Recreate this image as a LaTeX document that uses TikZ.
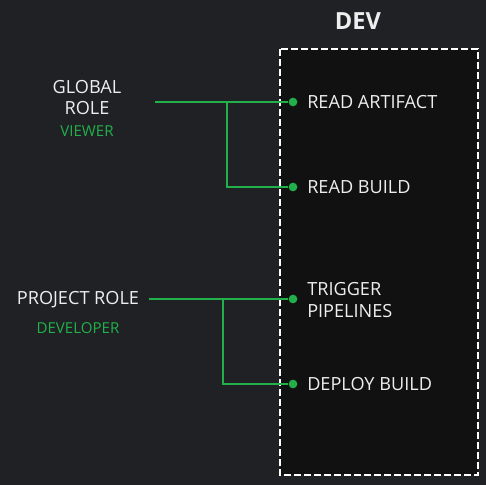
\documentclass[tikz,border=0pt]{standalone}
\usepackage{fontspec}
\setmainfont{Open Sans}
\definecolor{bgc}{HTML}{202124}
\definecolor{boxc}{HTML}{111111}
\definecolor{grn}{HTML}{22B04B}
\definecolor{txt}{HTML}{EEEEEE}
\begin{document}
\begin{tikzpicture}[x=0.75pt,y=-0.75pt,
  lbl/.style={text=txt,font=\fontsize{13.6}{16}\selectfont,inner sep=0pt},
  sub/.style={text=grn,font=\fontsize{11.3}{13}\selectfont,inner sep=0pt},
  conn/.style={draw=grn,line width=1.5pt},
  dotc/.style={circle,fill=grn,inner sep=0pt,minimum size=6.5pt}]
\fill[bgc] (0,0) rectangle (486,485);
\useasboundingbox (0,0) rectangle (486,485);
\fill[boxc] (280,49) rectangle (478,475);
\draw[white,line width=0.9pt,dash pattern=on 5pt off 2.5pt] (280,49) rectangle (478,475);
\node[text=txt,font=\fontsize{17.7}{20}\selectfont\bfseries,inner sep=0pt] (dev) at (358,21) {DEV};
% global role
\node[lbl,align=center] (glob) at (87,97.5) {GLOBAL\\ROLE};
\node[sub] (viewer) at (87,131) {VIEWER};
\coordinate (g0) at (155,102);
\coordinate (gj) at (227,102);
\node[dotc] (d1) at (293,102) {};
\node[dotc] (d2) at (293,187) {};
\draw[conn] (g0) -- (d1);
\draw[conn] (gj) |- (d2);
\node[lbl,anchor=west] (ra) at (307,102) {READ ARTIFACT};
\node[lbl,anchor=west] (rb) at (307,187) {READ BUILD};
% project role
\node[lbl] (proj) at (78,300) {PROJECT ROLE};
\node[sub] (dever) at (78,328) {DEVELOPER};
\coordinate (p0) at (149,299);
\coordinate (pj) at (223,299);
\node[dotc] (d3) at (293,299) {};
\node[dotc] (d4) at (293,384) {};
\draw[conn] (p0) -- (d3);
\draw[conn] (pj) |- (d4);
\node[lbl,anchor=west,align=left] (tp) at (307,300) {TRIGGER\\PIPELINES};
\node[lbl,anchor=west] (db) at (307,384) {DEPLOY BUILD};
\end{tikzpicture}
\end{document}
